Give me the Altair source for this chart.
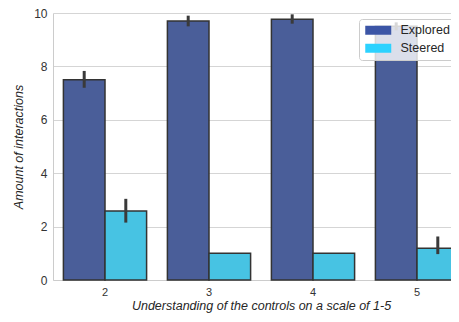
import altair as alt
import pandas as pd

categories = ["2", "3", "4", "5"]
groups = ["Explored", "Steered"]
explored_mean = [7.5, 9.7, 9.77, 9.5]
explored_lo = [7.2, 9.5, 9.6, 9.35]
explored_hi = [7.83, 9.9, 9.95, 9.65]
steered_mean = [2.58, 1.0, 1.0, 1.19]
steered_lo = [2.15, 1.0, 1.0, 0.97]
steered_hi = [3.04, 1.0, 1.0, 1.63]
bar_colors = ["#4a5e99", "#47c3e3"]
legend_colors = ["#3b55a6", "#2cd2ff"]

rows = []
for i, c in enumerate(categories):
    rows.append({"cat": c, "group": "Explored", "value": explored_mean[i],
                 "lo": explored_lo[i], "hi": explored_hi[i]})
    rows.append({"cat": c, "group": "Steered", "value": steered_mean[i],
                 "lo": steered_lo[i], "hi": steered_hi[i]})
df = pd.DataFrame(rows)

FONT = "Liberation Sans"

x_enc = alt.X(
    "cat:N", sort=categories,
    scale=alt.Scale(range=[0, 416], paddingInner=0.2, paddingOuter=0.1),
    axis=alt.Axis(title="Understanding of the controls on a scale of 1-5",
                  labelAngle=0, ticks=False, labelPadding=6, labelFontSize=11,
                  titleFontSize=12.5, titleFontStyle="italic", titleFontWeight="normal",
                  titlePadding=2, domainColor="#cccccc", grid=False),
)
xo_enc = alt.XOffset("group:N", sort=groups, scale=alt.Scale(domain=groups))
y_scale = alt.Scale(domain=[0, 10], nice=False)

bars = alt.Chart(df).mark_bar(stroke="#333333", strokeWidth=1.5).encode(
    x=x_enc,
    xOffset=xo_enc,
    y=alt.Y("value:Q", scale=y_scale,
            axis=alt.Axis(title="Amount of interactions", values=[0, 2, 4, 6, 8, 10],
                          grid=True, gridColor="#d5d5d5", domainColor="#cccccc",
                          ticks=False, labelPadding=6, labelFontSize=12,
                          titleFontSize=12.5, titleFontStyle="italic",
                          titleFontWeight="normal", titlePadding=8)),
    fill=alt.Fill("group:N", scale=alt.Scale(domain=groups, range=bar_colors), legend=None),
)

errs = alt.Chart(df).mark_rule(strokeWidth=3, color="#3a3a3a").encode(
    x=alt.X("cat:N", sort=categories),
    xOffset=alt.XOffset("group:N", sort=groups),
    y=alt.Y("lo:Q", scale=y_scale),
    y2="hi:Q",
)

legend_layer = alt.Chart(df).transform_filter("datum.value < 0").mark_square(
    filled=True, opacity=1).encode(
    x=alt.X("cat:N", sort=categories),
    y=alt.Y("value:Q", scale=y_scale),
    fill=alt.Fill("group:N", scale=alt.Scale(domain=groups, range=legend_colors),
                  legend=alt.Legend(title=None, orient="none", legendX=306, legendY=6,
                                    symbolType="M-1,-0.9H4.2V0.9H-1Z", symbolSize=100,
                                    symbolStrokeWidth=0, labelFontSize=12.5,
                                    labelOffset=24, padding=5, rowPadding=5,
                                    fillColor="rgba(255,255,255,0.8)",
                                    strokeColor="#cccccc", cornerRadius=3,
                                    labelColor="#262626")),
)

chart = alt.layer(bars, errs, legend_layer).resolve_scale(fill="independent").properties(
    width=398, height=267,
    autosize=alt.AutoSizeParams(type="none"),
    padding={"left": 45, "top": 5, "right": 0, "bottom": 34},
).configure(font=FONT).configure_view(stroke=None).configure_axis(
    labelColor="#333333", titleColor="#262626", labelFont=FONT, titleFont=FONT
)

chart.save("out.html", embed_options={"renderer": "svg", "actions": False})
